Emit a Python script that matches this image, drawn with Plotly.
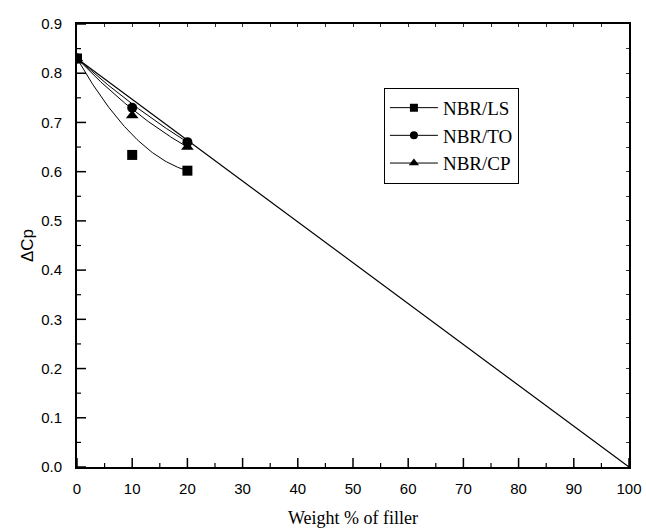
import numpy as np
import plotly.graph_objects as go

# Filler content (wt %) and measured heat-capacity step
filler = [0, 10, 20]
dcp_ls = [0.830, 0.634, 0.602]
dcp_to = [0.830, 0.730, 0.660]
dcp_cp = [0.830, 0.714, 0.650]

# Additivity (rule-of-mixtures) line
mix_x = [0, 100]
mix_y = [0.830, 0.0]

x_ticks = list(range(0, 101, 10))
y_ticks = [round(0.1 * i, 1) for i in range(10)]
x_minor = list(range(5, 100, 10))
y_minor = [round(0.05 + 0.1 * i, 2) for i in range(9)]

PLOT_W, PLOT_H = 552, 443


def bspline(xs, ys, n=80):
    """Quadratic B-spline (Bezier) using the measured points as control points."""
    t = np.linspace(0, 1, n)
    p0, p1, p2 = np.array([xs[0], ys[0]]), np.array([xs[1], ys[1]]), np.array([xs[2], ys[2]])
    pts = ((1 - t) ** 2)[:, None] * p0 + (2 * (1 - t) * t)[:, None] * p1 + (t ** 2)[:, None] * p2
    return pts[:, 0], pts[:, 1]


fig = go.Figure()

fig.add_trace(go.Scatter(x=mix_x, y=mix_y, mode="lines",
                         line=dict(color="black", width=1.2), showlegend=False))

series = [("NBR/LS", dcp_ls, "square", 10),
          ("NBR/TO", dcp_to, "circle", 10),
          ("NBR/CP", dcp_cp, "triangle-up", 11)]

for name, ys, sym, size in series:
    cx, cy = bspline(filler, ys)
    fig.add_trace(go.Scatter(x=cx, y=cy, mode="lines",
                             line=dict(color="black", width=1), showlegend=False,
                             hoverinfo="skip"))
    fig.add_trace(go.Scatter(x=filler, y=ys, mode="markers", name=name,
                             marker=dict(symbol=sym, size=size, color="black"),
                             showlegend=False))
    # legend entry: line with marker
    fig.add_trace(go.Scatter(x=[None], y=[None], mode="lines+markers", name=name,
                             line=dict(color="black", width=1),
                             marker=dict(symbol=sym, size=size - 2, color="black")))

tick_font = dict(family="Liberation Sans, Arial", size=15, color="black")
bare = dict(showticklabels=False, showline=False, showgrid=False, zeroline=False)

fig.update_layout(
    width=646, height=528,
    margin=dict(l=77, r=17, t=24, b=61, autoexpand=False),
    plot_bgcolor="white", paper_bgcolor="white",
    showlegend=True,
    legend=dict(x=0.556, y=0.856, xanchor="left", yanchor="top",
                bordercolor="black", borderwidth=1, bgcolor="white",
                font=dict(family="Liberation Serif, Times New Roman", size=19, color="black"),
                itemwidth=48, tracegroupgap=0),
    xaxis=dict(range=[0, 100], tickvals=x_ticks, ticks="", showline=True, linecolor="black",
               linewidth=2, mirror=True, ticklabeloverflow="allow", ticklabelstandoff=7,
               showgrid=False, zeroline=False, tickfont=tick_font,
               title=dict(text="Weight % of filler", standoff=20,
                          font=dict(family="Liberation Serif, Times New Roman", size=18, color="black"))),
    yaxis=dict(range=[0, 0.9], tickvals=y_ticks, tickformat=".1f", ticks="", showline=True,
               linecolor="black", linewidth=2, mirror=True, ticklabeloverflow="allow",
               showgrid=False, zeroline=False, tickfont=tick_font, ticklabelstandoff=10,
               title=dict(text="\u0394Cp", standoff=3,
                          font=dict(family="Liberation Sans, Arial", size=17, color="black"))),
    # small ticks along the top and right edges
    xaxis2=dict(overlaying="x", side="top", range=[0, 100], tickvals=list(range(0, 101, 5)),
                ticks="inside", ticklen=3, tickwidth=1, tickcolor="#333", **bare),
    yaxis2=dict(overlaying="y", side="right", range=[0, 0.9],
                tickvals=[round(0.05 * i, 2) for i in range(19)], ticks="inside", ticklen=3,
                tickwidth=1, tickcolor="#333", **bare),
)

fig.add_trace(go.Scatter(x=[None], y=[None], xaxis="x2", yaxis="y2", showlegend=False,
                         hoverinfo="skip"))

# inward major/minor ticks along the bottom and left edges
for v, ln, w in [(v, 9, 1.5) for v in x_ticks] + [(v, 4, 1.2) for v in x_minor]:
    fig.add_shape(type="line", xref="x", yref="y domain", x0=v, x1=v, y0=0, y1=ln / PLOT_H,
                  line=dict(color="black", width=w), layer="above")
for v, ln, w in [(v, 9, 1.5) for v in y_ticks] + [(v, 4, 1.2) for v in y_minor]:
    fig.add_shape(type="line", xref="x domain", yref="y", x0=0, x1=ln / PLOT_W, y0=v, y1=v,
                  line=dict(color="black", width=w), layer="above")

fig.write_html("out.html")
